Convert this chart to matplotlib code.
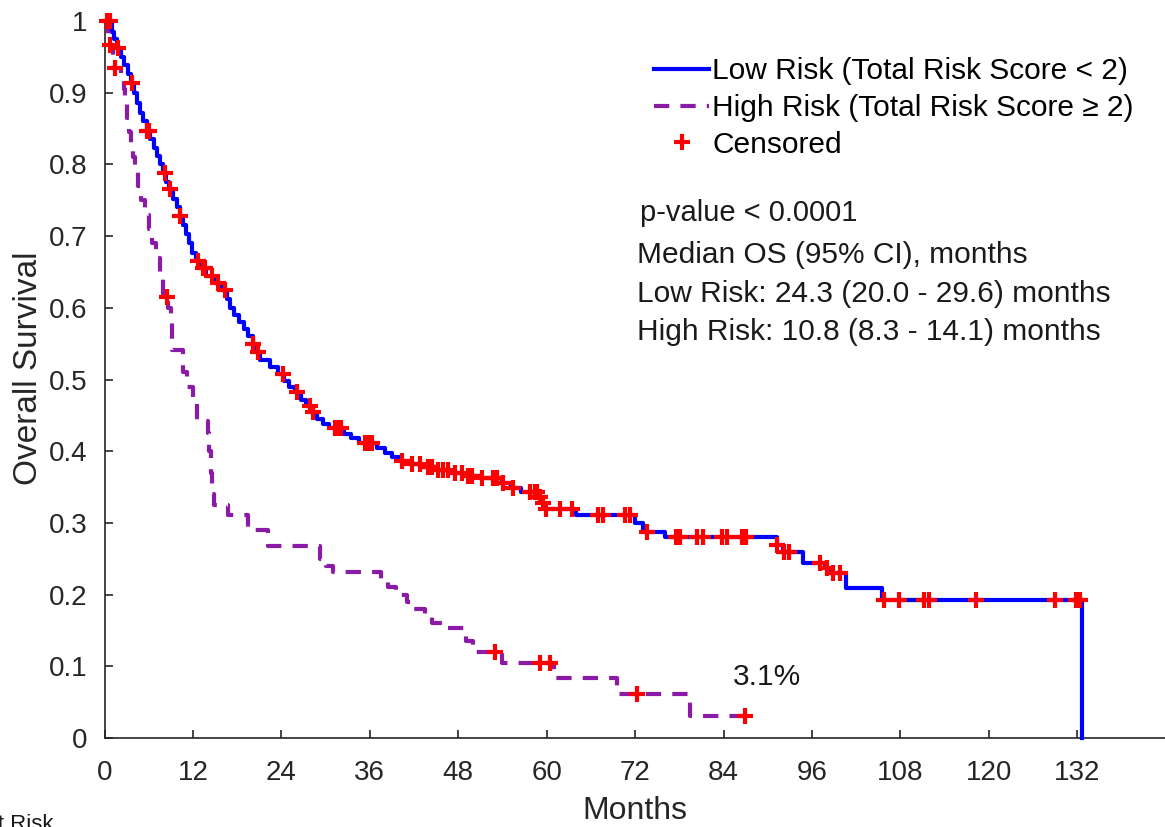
import numpy as np
import matplotlib
matplotlib.use("Agg")
import matplotlib.pyplot as plt
from matplotlib.lines import Line2D

plt.rcParams['font.family'] = ['Liberation Sans', 'DejaVu Sans']
plt.rcParams['lines.scale_dashes'] = False

# ---------------- data ----------------
low_times = [0, 1.0, 1.3, 1.7, 2.2, 2.7, 3.2, 3.6, 4.0, 4.4, 4.8, 5.2, 5.7, 6.2, 6.7, 7.1,
             7.5, 7.9, 8.4, 8.8, 9.3, 9.8, 10.3, 10.7, 11.1, 11.5, 11.9, 12.4, 13.0, 13.8,
             14.8, 15.8, 16.6, 17.0, 17.6, 18.3, 18.9, 19.5, 20.1, 20.6, 21.1, 22.5, 23.5,
             24.3, 25.0, 25.8, 26.6, 27.3, 28.0, 28.8, 29.6, 30.5, 32.5, 33.5, 34.5, 37.0,
             38.0, 39.0, 40.0, 41.5, 43.0, 45.0, 47.0, 49.0, 51.0, 54.0, 55.2, 56.5, 58.8,
             59.3, 59.8, 64.0, 72.0, 73.0, 76.0, 91.3, 92.0, 94.8, 97.8, 98.5, 100.6, 105.5,
             132.7]
low_surv = [1.0, 0.985, 0.975, 0.962, 0.950, 0.938, 0.926, 0.914, 0.900, 0.886, 0.872, 0.860,
            0.847, 0.835, 0.823, 0.812, 0.800, 0.788, 0.775, 0.765, 0.752, 0.740, 0.728, 0.716,
            0.703, 0.690, 0.677, 0.665, 0.655, 0.645, 0.635, 0.625, 0.612, 0.600, 0.590, 0.580,
            0.570, 0.560, 0.550, 0.538, 0.527, 0.518, 0.508, 0.498, 0.490, 0.482, 0.472, 0.463,
            0.455, 0.445, 0.438, 0.432, 0.424, 0.418, 0.412, 0.405, 0.398, 0.392, 0.387, 0.382,
            0.378, 0.374, 0.370, 0.366, 0.362, 0.355, 0.348, 0.343, 0.336, 0.328, 0.320, 0.311,
            0.300, 0.287, 0.280, 0.269, 0.259, 0.244, 0.237, 0.230, 0.209, 0.193, 0.0]
low_censored = [0.3, 0.7, 1.8, 3.7, 5.8, 6.0, 8.2, 8.9, 10.3, 12.7, 13.3, 13.6, 14.6, 15.4,
                16.3, 20.1, 20.8, 24.2, 26.1, 27.9, 28.3, 31.3, 31.7, 32.1, 35.3, 35.7, 36.3,
                40.4, 41.7, 42.8, 43.9, 44.4, 45.2, 45.9, 46.6, 47.5, 48.5, 49.3, 49.9, 51.2,
                52.7, 53.3, 54.1, 55.4, 57.8, 58.4, 58.7, 59.1, 59.5, 59.9, 61.8, 63.4, 67.0,
                67.6, 70.6, 71.3, 73.6, 77.5, 78.1, 80.4, 81.2, 83.8, 84.5, 86.5, 87.1, 91.3,
                92.2, 92.9, 97.1, 98.0, 98.9, 99.8, 105.7, 107.8, 111.2, 111.9, 118.3, 129.0,
                131.8, 132.4]

high_times = [0, 0.5, 1.2, 2.3, 2.6, 2.8, 3.0, 3.3, 3.6, 3.9, 4.2, 4.6, 5.0, 5.5, 6.0, 6.5,
              7.0, 7.5, 8.0, 8.6, 9.0, 9.2, 10.7, 11.2, 12.0, 12.6, 14.0, 14.2, 14.4, 14.6,
              14.8, 16.8, 19.5, 22.2, 29.3, 30.0, 31.0, 37.5, 38.5, 39.5, 41.0, 42.0, 43.5,
              44.5, 46.0, 49.0, 50.0, 54.0, 61.0, 69.5, 79.5]
high_surv = [1.0, 0.967, 0.935, 0.925, 0.905, 0.885, 0.865, 0.845, 0.83, 0.81, 0.79, 0.77,
             0.75, 0.73, 0.71, 0.69, 0.67, 0.65, 0.615, 0.60, 0.58, 0.541, 0.51, 0.49, 0.47,
             0.442, 0.425, 0.40, 0.37, 0.34, 0.325, 0.311, 0.29, 0.268, 0.25, 0.24, 0.231,
             0.222, 0.21, 0.20, 0.19, 0.18, 0.17, 0.16, 0.153, 0.135, 0.12, 0.105, 0.083,
             0.061, 0.031]
high_censored = [0.75, 1.4, 8.5, 53.0, 59.1, 60.4, 72.3, 86.9]

x_ticks = [0, 12, 24, 36, 48, 60, 72, 84, 96, 108, 120, 132]
y_ticks = [0, 0.1, 0.2, 0.3, 0.4, 0.5, 0.6, 0.7, 0.8, 0.9, 1]
y_ticklabels = ['0', '0.1', '0.2', '0.3', '0.4', '0.5', '0.6', '0.7', '0.8', '0.9', '1']

legend_labels = ['Low Risk (Total Risk Score < 2)',
                 'High Risk (Total Risk Score \u2265 2)',
                 'Censored']
stats_lines = ['p-value < 0.0001',
               'Median OS (95% CI), months',
               'Low Risk: 24.3 (20.0 - 29.6) months',
               'High Risk: 10.8 (8.3 - 14.1) months']
end_label = '3.1%'

# ---------------- styles ----------------
BLUE = '#0000FF'
PURPLE = '#8B1AA6'
RED = '#FF0000'
AXC = '#262626'
TXT = '#1a1a1a'

W, H = 1165, 827
fig = plt.figure(figsize=(W / 100, H / 100), dpi=100)
x0px, y0px, y1px = 104.5, 738, 21
ax = fig.add_axes([x0px / W, 1 - y0px / H, 1 - x0px / W, (y0px - y1px) / H])


def km_value(times, surv, t):
    idx = np.searchsorted(np.asarray(times), t, side='right') - 1
    return np.asarray(surv)[idx]


# Low risk curve
ax.step(list(low_times), list(low_surv), where='post', color=BLUE, lw=3, zorder=3,
        clip_on=False)

# High risk curve (extends to last censor)
ht = list(high_times) + [max(high_censored)]
hs = list(high_surv) + [high_surv[-1]]
ax.step(ht, hs, where='post', color=PURPLE, lw=3, dashes=(11, 8), zorder=3)

# censor marks
lc = np.array(low_censored)
ax.plot(lc, km_value(low_times, low_surv, lc), ls='none', marker='+', ms=11, mew=3,
        color=RED, zorder=4, clip_on=False)
hc = np.array(high_censored)
ax.plot(hc, km_value(high_times, high_surv, hc), ls='none', marker='+', ms=11, mew=3,
        color=RED, zorder=4, clip_on=False)

ax.set_xlim(0, (W - x0px) / 7.37)
ax.set_ylim(0, 1)
ax.set_xticks(x_ticks)
ax.set_xticklabels([str(v) for v in x_ticks])
ax.set_yticks(y_ticks)
ax.set_yticklabels(y_ticklabels)
ax.tick_params(direction='in', length=6, width=1.2, colors=AXC, labelsize=20,
               labelcolor='#262626')
ax.tick_params(axis='x', pad=16)
ax.tick_params(axis='y', pad=12)
for sp in ['top', 'right']:
    ax.spines[sp].set_visible(False)
for sp in ['left', 'bottom']:
    ax.spines[sp].set_color(AXC)
    ax.spines[sp].set_linewidth(1.2)

ax.set_xlabel('Months', fontsize=23, color='#262626', labelpad=7)
ax.set_ylabel('Overall Survival', fontsize=24, color='#262626')
ax.yaxis.set_label_coords(-0.057, 0.515)

# legend
handles = [Line2D([], [], color=BLUE, lw=3),
           Line2D([], [], color=PURPLE, lw=3, dashes=(11, 8)),
           Line2D([], [], color=RED, ls='none', marker='+', ms=11, mew=3)]
ax.legend(handles, legend_labels, loc='upper left', bbox_to_anchor=(654 / W, 1 - 57 / H),
          bbox_transform=fig.transFigure, frameon=False, fontsize=21.5,
          handlelength=1.85, handletextpad=0.1, labelspacing=0.3, borderpad=0,
          borderaxespad=0)

# stats text
fig.text(640 / W, 1 - 213 / H, stats_lines[0], fontsize=21, va='center', ha='left',
         color=TXT)
for i, s in enumerate(stats_lines[1:]):
    fig.text(637 / W, 1 - (255 + 38.5 * i) / H, s, fontsize=21.5, va='center', ha='left',
             color=TXT)

ax.text(85.3, 0.085, end_label, fontsize=21.5, va='center', ha='left', color=TXT)

fig.text(53 / W, 1 - 814 / H, 'Number at Risk', fontsize=16, ha='right', va='top',
         color=TXT)

fig.savefig('out.png', dpi=100)
